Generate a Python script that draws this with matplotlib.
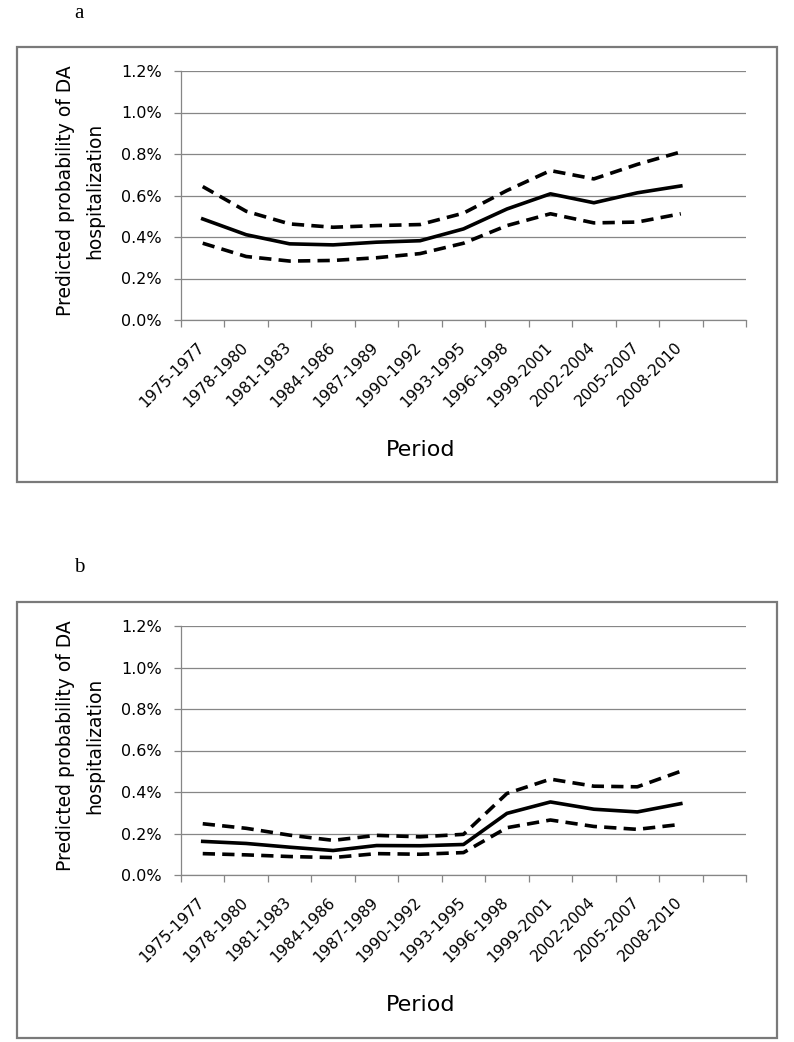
import matplotlib
matplotlib.use("Agg")
import matplotlib.pyplot as plt
from matplotlib.patches import Rectangle
from matplotlib.ticker import PercentFormatter, FixedLocator
from matplotlib.transforms import ScaledTranslation
import numpy as np

# Periods on the x axis (Excel leaves one empty slot after the last one)
periods = ['1975-1977', '1978-1980', '1981-1983', '1984-1986', '1987-1989',
           '1990-1992', '1993-1995', '1996-1998', '1999-2001', '2002-2004',
           '2005-2007', '2008-2010']

# Panel a: predicted probability (%) with confidence limits
a_est = [0.487, 0.411, 0.367, 0.362, 0.375, 0.382, 0.439, 0.535, 0.608, 0.565, 0.613, 0.646]
a_upper = [0.643, 0.524, 0.463, 0.447, 0.455, 0.460, 0.515, 0.624, 0.720, 0.680, 0.750, 0.810]
a_lower = [0.370, 0.306, 0.284, 0.287, 0.300, 0.320, 0.370, 0.455, 0.512, 0.468, 0.472, 0.512]

# Panel b
b_est = [0.162, 0.152, 0.134, 0.118, 0.142, 0.141, 0.147, 0.297, 0.352, 0.317, 0.304, 0.344]
b_upper = [0.247, 0.225, 0.192, 0.167, 0.191, 0.184, 0.196, 0.393, 0.462, 0.428, 0.425, 0.500]
b_lower = [0.103, 0.097, 0.089, 0.084, 0.103, 0.100, 0.108, 0.228, 0.265, 0.234, 0.220, 0.244]

ylabel = "Predicted probability of DA\nhospitalization"
GREY = '#868686'
W, H = 794, 1042


def fx(px):
    return px / W


def fy(px):
    return 1 - px / H


def draw_panel(fig, top_px, frame_top, frame_bot, letter, est, upper, lower):
    # outer frame around the chart
    fig.patches.append(Rectangle((fx(17), fy(frame_bot)), fx(777) - fx(17),
                                 fy(frame_top) - fy(frame_bot), transform=fig.transFigure,
                                 fill=False, edgecolor='#7a7a7a', lw=1.6))
    fig.text(fx(79), fy(frame_top - 34), letter, family='Liberation Serif',
             fontsize=15, ha='center', va='center')

    bot_px = top_px + 249
    ax = fig.add_axes([fx(181), fy(bot_px), fx(746) - fx(181), fy(top_px) - fy(bot_px)])
    x = np.arange(len(periods)) + 0.5

    ax.plot(x, est, color='black', lw=2.6, solid_joinstyle='round')
    for band in (upper, lower):
        ax.plot(x, band, color='black', lw=2.6, dashes=(3.4, 2.0), dash_capstyle='butt')

    ax.set_xlim(0, len(periods) + 1)
    ax.set_ylim(0, 1.2)
    ax.set_yticks(np.arange(0, 1.21, 0.2))
    ax.yaxis.set_major_formatter(PercentFormatter(decimals=1))
    ax.yaxis.grid(True, color=GREY, lw=0.9)
    ax.set_axisbelow(True)

    # tick marks at category boundaries, labels at centres
    ax.xaxis.set_major_locator(FixedLocator(np.arange(len(periods) + 2)))
    ax.xaxis.set_minor_locator(FixedLocator(x))
    ax.set_xticklabels([])
    ax.set_xticklabels(periods, minor=True, rotation=45, ha='right', va='top',
                       rotation_mode='anchor', fontsize=11.2)
    ax.tick_params(axis='x', which='major', length=5, width=0.9, color=GREY)
    ax.tick_params(axis='x', which='minor', length=0, pad=14)
    ax.tick_params(axis='y', length=5, width=0.9, color=GREY, labelsize=11.5, pad=9)

    # nudge rotated labels so their end sits on the category centre
    shift = ScaledTranslation(-6 / 100, 0, fig.dpi_scale_trans)
    for lab in ax.xaxis.get_minorticklabels():
        lab.set_transform(lab.get_transform() + shift)

    for side in ('top', 'right'):
        ax.spines[side].set_visible(False)
    for side in ('left', 'bottom'):
        ax.spines[side].set_color(GREY)
        ax.spines[side].set_linewidth(0.9)

    fig.text(fx(80), fy(top_px + 120), ylabel, rotation=90, fontsize=13.5,
             ha='center', va='center', multialignment='center', linespacing=1.7)
    fig.text(fx(421), fy(top_px + 379), 'Period', fontsize=16, ha='center', va='center')
    return ax


def main():
    plt.rcParams['font.family'] = ['DejaVu Sans']
    fig = plt.figure(figsize=(W / 100, H / 100), dpi=100)

    draw_panel(fig, 71, 47, 482, 'a', a_est, a_upper, a_lower)
    draw_panel(fig, 626, 602, 1038, 'b', b_est, b_upper, b_lower)

    fig.savefig('out.png', dpi=100)


if __name__ == "__main__":
    main()
